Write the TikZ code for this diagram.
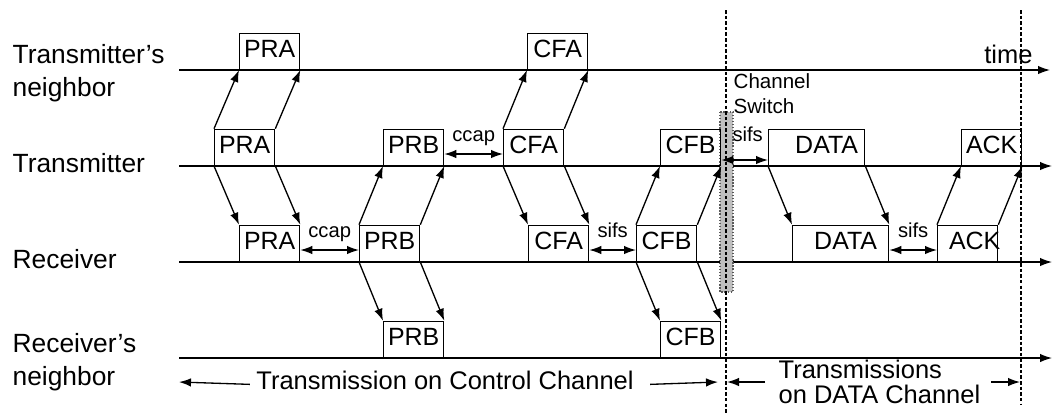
\documentclass[tikz,border=0pt]{standalone}
\usepackage{fontspec}
\setmainfont{Liberation Sans}
\usetikzlibrary{arrows.meta}

\tikzset{
  pkt/.style={draw, anchor=south west, inner sep=0pt, minimum width=1.2cm,
    minimum height=0.72cm, text height=0.24cm, text depth=0pt,
    font=\fontsize{14.2}{17}\selectfont},
  lane/.style={anchor=base west, align=left, inner sep=0pt,
    font=\fontsize{15}{18.7}\selectfont},
  gaplbl/.style={above=5pt, inner sep=2pt, text depth=0pt,
    font=\fontsize{11.5}{14}\selectfont},
  vdash/.style={line width=0.7pt, dash pattern=on 2pt off 1.2pt},
}

\begin{document}
\begin{tikzpicture}[x=0.02cm, y=-0.02cm, line width=0.75pt,
    >={Latex[length=2.4mm,width=1.7mm]}]
\useasboundingbox (0,0) rectangle (1053,414);

% time lines
\coordinate (tnS) at (179,70);  \coordinate (tnE) at (1050,70);
\coordinate (trS) at (179,166); \coordinate (trE) at (1052,166);
\coordinate (rcS) at (179,262); \coordinate (rcE) at (1052,262);
\coordinate (rnS) at (179,358); \coordinate (rnE) at (1052,358);
\draw[->] (tnS) -- (tnE);
\draw[->] (trS) -- (trE);
\draw[->] (rcS) -- (rcE);
\draw[->] (rnS) -- (rnE);

\node[lane] (tnLbl) at (12,96)  {Transmitter's\\neighbor};
\node[lane] (trLbl) at (12,172) {Transmitter};
\node[lane] (rcLbl) at (12,268) {Receiver};
\node[lane] (rnLbl) at (12,385) {Receiver's\\neighbor};
\node[anchor=base east, font=\fontsize{14.5}{17}\selectfont] (timeLbl) at (1039,63) {time};

% channel switch
\draw[densely dotted, gray!70!black, fill=gray!50] (720,112) rectangle (733,292);
\node[anchor=base west, align=left, inner sep=0pt,
  font=\fontsize{11.7}{14.2}\selectfont] (swLbl) at (733,113) {Channel\\Switch};

% packets
\node[pkt] (tnPRA) at (239,70) {PRA};
\node[pkt] (tnCFA) at (527,70) {CFA};
\node[pkt] (trPRA) at (214,166) {PRA};
\node[pkt] (trPRB) at (383,166) {PRB};
\node[pkt] (trCFA) at (503,166) {CFA};
\node[pkt] (trCFB) at (660,166) {CFB};
\node[pkt, minimum width=1.92cm] (trDATA) at (768,166) {\hspace*{0.2cm}DATA\hspace*{-0.2cm}};
\node[pkt] (trACK) at (961,166) {ACK};
\node[pkt] (rcPRA) at (239,262) {PRA};
\node[pkt] (rcPRB) at (359,262) {PRB};
\node[pkt] (rcCFA) at (528,262) {CFA};
\node[pkt] (rcCFB) at (636,262) {CFB};
\node[pkt, minimum width=1.92cm] (rcDATA) at (792,262) {\hspace*{0.1cm}DATA\hspace*{-0.1cm}};
\node[pkt] (rcACK) at (937,262) {\hspace*{0.14cm}ACK\hspace*{-0.14cm}};
\node[pkt] (rnPRB) at (383,358) {PRB};
\node[pkt] (rnCFB) at (660,358) {CFB};

\path[->]
  (trPRA.north west) edge (tnPRA.south west)
  (trPRA.north east) edge (tnPRA.south east)
  (trPRA.south west) edge (rcPRA.north west)
  (trPRA.south east) edge (rcPRA.north east)
  (rcPRB.north west) edge (trPRB.south west)
  (rcPRB.north east) edge (trPRB.south east)
  (rcPRB.south west) edge (rnPRB.north west)
  (rcPRB.south east) edge (rnPRB.north east)
  (trCFA.north west) edge (tnCFA.south west)
  (trCFA.north east) edge (tnCFA.south east)
  (trCFA.south west) edge (rcCFA.north west)
  (trCFA.south east) edge (rcCFA.north east)
  (rcCFB.north west) edge (trCFB.south west)
  (rcCFB.north east) edge (trCFB.south east)
  (rcCFB.south west) edge (rnCFB.north west)
  (rcCFB.south east) edge (rnCFB.north east)
  (trDATA.south west) edge (rcDATA.north west)
  (trDATA.south east) edge (rcDATA.north east)
  (rcACK.north west) edge (trACK.south west)
  (rcACK.north east) edge (trACK.south east);

% gaps
\draw[<->] ([yshift=0.24cm]trPRB.south east) -- node[gaplbl] {ccap} ([yshift=0.24cm]trCFA.south west);
\draw[<->] ([yshift=0.12cm]trCFB.south east) -- node[gaplbl, above=3pt, xshift=0.06cm] {sifs} ([yshift=0.12cm]trDATA.south west);
\draw[<->] ([yshift=0.24cm]rcPRA.south east) -- node[gaplbl] {ccap} ([yshift=0.24cm]rcPRB.south west);
\draw[<->] ([yshift=0.24cm]rcCFA.south east) -- node[gaplbl] {sifs} ([yshift=0.24cm]rcCFB.south west);
\draw[<->] ([yshift=0.24cm]rcDATA.south east) -- node[gaplbl] {sifs} ([yshift=0.24cm]rcACK.south west);

% channel borders
\coordinate (v1t) at (726,10);  \coordinate (v1b) at (726,414);
\coordinate (v2t) at (1021,10); \coordinate (v2b) at (1021,404);
\draw[vdash] (v1t) -- (v1b);
\draw[vdash] (v2t) -- (v2b);

% periods
\node[anchor=base, font=\fontsize{14.5}{17}\selectfont] (ctlTxt) at (445,389) {Transmission on Control Channel};
\coordinate (ctlL) at (179,382); \coordinate (ctlR) at (718,382);
\draw[->] (ctlTxt.mid west) -- (ctlL);
\draw[->] ([xshift=0.2cm]ctlTxt.mid east) -- (ctlR);

\node[anchor=base west, align=left, inner sep=0pt,
  font=\fontsize{14.5}{14.2}\selectfont] (dataTxt) at (778,403) {Transmissions\\on DATA Channel};
\coordinate (dl0) at (765,382);  \coordinate (dl1) at (727,382);
\coordinate (dr0) at (991,382); \coordinate (dr1) at (1020,382);
\draw[->] (dl0) -- (dl1);
\draw[->] (dr0) -- (dr1);
\end{tikzpicture}
\end{document}
